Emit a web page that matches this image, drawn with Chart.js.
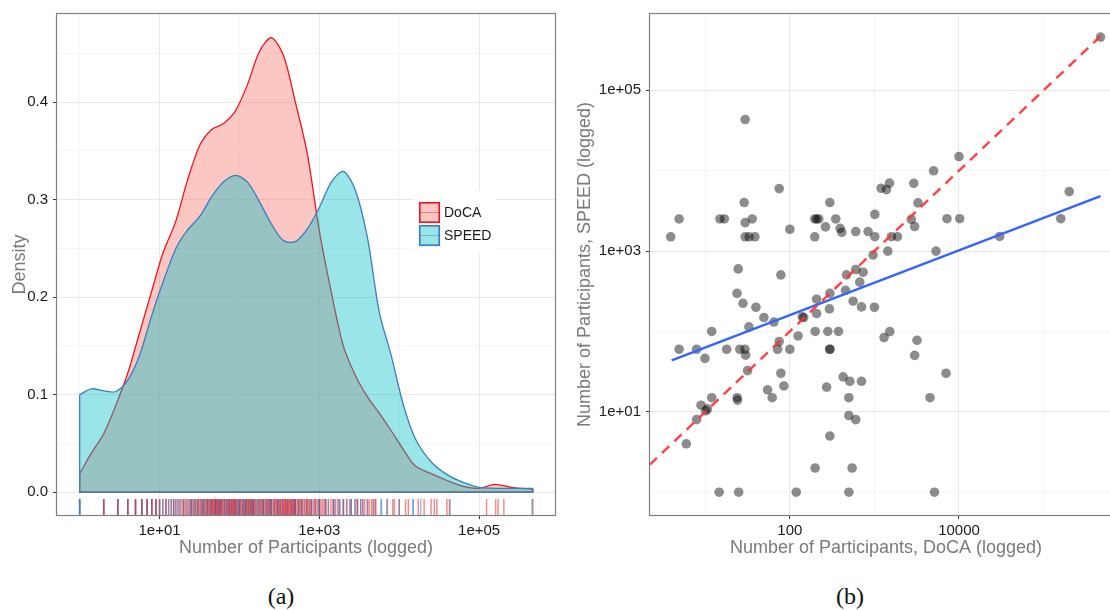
<!DOCTYPE html>
<html>
<head>
<meta charset="utf-8">
<script src="https://cdn.jsdelivr.net/npm/chart.js@4.4.0/dist/chart.umd.min.js"></script>
<style>
  html, body { margin: 0; padding: 0; background: #fff; }
  body { width: 1110px; height: 610px; overflow: hidden; position: relative; }
  #densityChart { position: absolute; left: 0; top: 0; }
  #scatterChart { position: absolute; left: 560px; top: 0; }
  .caption { position: absolute; top: 583px; font-family: "Liberation Serif", "DejaVu Serif", serif; font-size: 24px; line-height: 26px; color: #111; transform: translateX(-50%); }
</style>
</head>
<body>
<canvas id="densityChart" width="570" height="570"></canvas>
<canvas id="scatterChart" width="570" height="570"></canvas>
<div class="caption" style="left:281px">(a)</div>
<div class="caption" style="left:850px">(b)</div>
<script>
// ---- panel (a): density of participants ----
const seriesNames = ["DoCA", "SPEED"];

// x positions where the density curves were read (participants)
const densityX = [1, 1.4, 2, 2.8, 4, 5.6, 7.9, 11, 16, 22, 32, 45, 63, 89, 126, 178, 251, 355, 501, 708,
  1000, 1413, 1995, 2818, 3981, 5623, 7943, 11220, 15849, 25119, 39811, 63096, 100000, 158489, 251189, 470000];
const docaDensity = [0.019, 0.040, 0.060, 0.088, 0.122, 0.163, 0.205, 0.245, 0.278, 0.318, 0.356, 0.372, 0.378, 0.391,
  0.418, 0.452, 0.466, 0.448, 0.400, 0.347, 0.268, 0.205, 0.150, 0.120, 0.098, 0.081, 0.063, 0.044, 0.027, 0.019,
  0.012, 0.006, 0.004, 0.008, 0.005, 0.003];
const speedDensity = [0.100, 0.106, 0.104, 0.103, 0.115, 0.140, 0.180, 0.215, 0.250, 0.268, 0.283, 0.303, 0.318, 0.325,
  0.318, 0.298, 0.275, 0.258, 0.257, 0.270, 0.292, 0.318, 0.329, 0.310, 0.262, 0.185, 0.140, 0.090, 0.055, 0.031,
  0.018, 0.010, 0.005, 0.004, 0.004, 0.004];

// rug marks (individual observations)
const docaRug = [2, 2, 2, 3, 3, 3, 4, 4, 4, 5, 5, 5, 6, 6, 6, 7, 7, 7, 8, 8, 8, 9, 9, 9,
  10, 10, 11, 12, 12, 13, 14, 15, 15, 16, 17, 18, 19, 20, 20, 21, 22, 23, 24, 25, 25, 26, 27, 28, 29, 30, 30,
  31, 32, 33, 34, 35, 35, 36, 37, 38, 39, 40, 40, 41, 42, 43, 44, 45, 45, 46, 47, 48, 49, 50, 50, 50,
  51, 52, 53, 54, 55, 55, 56, 57, 58, 59, 60, 60, 62, 64, 65, 66, 68, 70, 70, 72, 74, 75, 75, 76, 78, 80, 80,
  82, 84, 85, 86, 88, 90, 90, 92, 95, 98, 100, 100, 100, 102, 105, 108, 110, 112, 115, 118, 120, 120, 122, 125,
  128, 130, 132, 135, 138, 140, 142, 145, 148, 150, 150, 150, 155, 160, 165, 170, 175, 180, 185, 190, 195,
  200, 200, 200, 210, 215, 220, 225, 230, 235, 240, 245, 250, 250, 260, 270, 275, 280, 290, 300, 300, 300,
  310, 320, 325, 330, 340, 350, 350, 360, 370, 375, 380, 390, 400, 400, 410, 420, 430, 440, 450, 450, 460,
  475, 480, 490, 500, 500, 500, 520, 540, 550, 560, 580, 600, 600, 620, 650, 680, 700, 700, 720, 750, 780,
  800, 800, 850, 880, 900, 950, 1000, 1000, 1000, 1050, 1100, 1150, 1200, 1200, 1300, 1400, 1500, 1500, 1600,
  1700, 1800, 2000, 2000, 2200, 2400, 2500, 2800, 3000, 3000, 3300, 3500, 3700, 4000, 4200, 4500, 4700, 5000,
  5100, 7100, 8300, 8700, 10000, 12000, 13000, 17300, 20500, 25000, 27500, 29600, 39500, 42500,
  124000, 161000, 173000, 204000, 470000];
const speedRug = [1, 1, 1, 1, 1, 2, 3, 4, 5, 6, 7, 8, 9, 10, 11, 12, 13, 14, 15, 16, 17, 18, 20, 22, 24, 25, 27, 28,
  30, 33, 35, 36, 39, 43, 45, 50, 55, 56, 60, 65, 70, 75, 80, 88, 95, 100, 100, 110, 115, 120, 130, 140, 150, 160,
  170, 180, 200, 200, 220, 240, 250, 270, 300, 320, 350, 400, 450, 500, 500, 550, 600, 650, 750, 800, 900,
  1000, 1000, 1200, 1300, 1500, 1550, 1750, 1800, 2000, 2200, 2500, 2500, 2800, 3000, 3300, 3500, 4000, 4800,
  5900, 6000, 7000, 10000, 14800, 15000, 18600, 43300, 460000];

const densityXTicks = [1, 10, 100, 1000, 10000, 100000];
const densityXLabels = { 10: "1e+01", 1000: "1e+03", 100000: "1e+05" };
const densityYTicks = [0, 0.05, 0.1, 0.15, 0.2, 0.25, 0.3, 0.35, 0.4, 0.45];
const densityYMajor = [0, 0.1, 0.2, 0.3, 0.4];

// ---- panel (b): matched events ----
const docaCount = [29.6, 74.8, 28.8, 297, 4.9, 14.9, 16.8, 29.6, 35.9, 100, 197, 207, 220, 349, 264, 393, 411, 602, 841,
  3.9, 29.6, 33, 38.6, 197, 24.5, 78.3, 23.7, 27.9, 39.7, 49.3, 64.7, 32.8, 11.9, 4.9, 7.9, 9.9, 17.9, 25.6, 29.4, 30,
  74.8, 71.6, 100, 125, 199, 281, 376, 297, 297, 146, 140, 207, 207, 297, 294, 455, 468, 602, 735, 671, 560, 703,
  78.3, 31.6, 54.5, 85, 272, 427, 512, 703, 61.8, 23.8, 24, 11.9, 8.9, 10.1, 10.6, 7.9, 5.96, 14.6, 24.8, 119, 498,
  199, 545, 297, 498, 602, 498, 472000, 10000, 5010, 2920, 1510, 1200, 1390, 3280, 1010, 2730, 2990, 7210, 10200,
  1010, 1590, 1870, 1440, 964, 5350, 30300, 160000, 201000, 1000, 1520, 1300, 3190, 2990, 7030, 4540, 5130];
const speedCount = [43300, 5990, 4020, 4020, 2510, 2510, 2510, 2260, 2510, 1870, 2510, 2510, 2510, 2510, 2000, 1920, 1715,
  1750, 1750, 1505, 1505, 1505, 1505, 1505, 600, 506, 298, 224, 200, 149, 131, 114, 100, 60.1, 60.1, 46.2, 60.1, 60.1,
  60.1, 50.7, 74.8, 60.1, 60.1, 87.9, 100, 100, 100, 60.1, 60.1, 149, 152, 167, 252, 298, 191, 325, 506, 590, 546, 411,
  238, 202, 30.2, 32.6, 18.8, 21, 20.3, 27.2, 24, 24, 15, 15, 14, 15, 12.1, 10.3, 10.9, 8, 4, 1, 1, 1, 1, 2, 2, 5, 9,
  8, 15, 460000, 15000, 9970, 6970, 7000, 6050, 5820, 3980, 2860, 2480, 2020, 2530, 2530, 1510, 1510, 1510, 1000, 893,
  1000, 1520, 2530, 5500, 200, 99.5, 84, 77.7, 50.4, 30.2, 15, 1];

const fitX = [4, 472000];          // fitted regression line (blue)
const fitY = [43.6, 4820];
const equalX = [2.2, 472000];      // equality line (red dashed)
const equalY = [2.2, 472000];

const scatterXTicks = [10, 100, 1000, 10000, 100000];
const scatterXLabels = { 100: "100", 10000: "10000" };
const scatterXMajor = [100, 10000];
const scatterYTicks = [1, 10, 100, 1000, 10000, 100000];
const scatterYLabels = { 10: "1e+01", 1000: "1e+03", 100000: "1e+05" };

// ---- styling ----
const FONT = '"Liberation Sans", Arial, sans-serif';
const docaLine = "#e8191f", docaFill = "rgba(248,118,109,0.42)";
const speedLine = "#3a7dc0", speedFill = "rgba(0,191,196,0.40)";
const RUG_Y = -0.0153;
const gridMajor = "#e8e8e8", gridMinor = "#f3f3f3";

Chart.defaults.font.family = FONT;

const frame = {
  id: "frame",
  afterDraw(chart) {
    const { ctx, chartArea: a } = chart;
    ctx.save();
    ctx.strokeStyle = "#808080";
    ctx.lineWidth = 1.2;
    ctx.strokeRect(a.left - 0.5, a.top - 0.5, a.right - a.left + 1, a.bottom - a.top + 1);
    ctx.restore();
  }
};

// outline the ends and the base of each density polygon, like ggplot does
const densityEdges = {
  id: "densityEdges",
  afterDatasetDraw(chart, args) {
    const ds = chart.data.datasets[args.index];
    if (!ds.closeEdges) return;
    const pts = args.meta.data;
    const first = pts[0], last = pts[pts.length - 1];
    const y0 = chart.scales.y.getPixelForValue(0);
    const ctx = chart.ctx;
    ctx.save();
    ctx.strokeStyle = ds.borderColor;
    ctx.lineWidth = ds.borderWidth;
    ctx.beginPath();
    ctx.moveTo(first.x, first.y);
    ctx.lineTo(first.x, y0);
    ctx.lineTo(last.x, y0);
    ctx.lineTo(last.x, last.y);
    ctx.stroke();
    ctx.restore();
  }
};

const densityLegend = {
  id: "densityLegend",
  afterDraw(chart) {
    const ctx = chart.ctx;
    const x = 414, y = 191;
    ctx.save();
    ctx.fillStyle = "#fff";
    ctx.fillRect(x, y, 82, 62);
    const keys = [[docaFill, docaLine], [speedFill, speedLine]];
    keys.forEach(([fill, line], i) => {
      const ky = y + 11 + i * 23;
      ctx.fillStyle = "#f2f2f2";
      ctx.fillRect(x + 4, ky - 1, 23, 23);
      ctx.fillStyle = "#fff";
      ctx.fillRect(x + 5, ky, 21, 21);
      ctx.fillStyle = fill;
      ctx.fillRect(x + 5, ky, 21, 21);
      ctx.strokeStyle = line;
      ctx.lineWidth = 1.6;
      ctx.strokeRect(x + 5.8, ky + 0.8, 19.4, 19.4);
      ctx.globalAlpha = 0.45;
      ctx.lineWidth = 1;
      ctx.beginPath();
      ctx.moveTo(x + 6, ky + 10.5);
      ctx.lineTo(x + 25, ky + 10.5);
      ctx.stroke();
      ctx.globalAlpha = 1;
      ctx.fillStyle = "#1a1a1a";
      ctx.font = "14px " + FONT;
      ctx.textBaseline = "middle";
      ctx.fillText(seriesNames[i], x + 30, ky + 11);
    });
    ctx.restore();
  }
};

function tickValues(list) {
  return s => { s.ticks = list.map(v => ({ value: v })); };
}

// ---- chart (a) ----
new Chart(document.getElementById("densityChart"), {
  type: "line",
  data: {
    datasets: [
      {
        label: seriesNames[0],
        data: densityX.map((x, i) => ({ x, y: docaDensity[i] })),
        borderColor: docaLine, backgroundColor: docaFill, borderWidth: 1.3,
        fill: "origin", pointRadius: 0, tension: 0.3, order: 3, closeEdges: true
      },
      {
        label: seriesNames[1],
        data: densityX.map((x, i) => ({ x, y: speedDensity[i] })),
        borderColor: speedLine, backgroundColor: speedFill, borderWidth: 1.3,
        fill: "origin", pointRadius: 0, tension: 0.3, order: 2, closeEdges: true
      },
      {
        type: "scatter", label: "DoCA rug",
        data: docaRug.map(x => ({ x, y: RUG_Y })),
        pointStyle: "line", rotation: 90, pointRadius: 8, borderWidth: 1.5,
        borderColor: "rgba(232,25,31,0.5)", order: 1
      },
      {
        type: "scatter", label: "SPEED rug",
        data: speedRug.map(x => ({ x, y: RUG_Y })),
        pointStyle: "line", rotation: 90, pointRadius: 8, borderWidth: 1.5,
        borderColor: "rgba(58,125,192,0.5)", order: 0
      }
    ]
  },
  options: {
    responsive: false, animation: false, events: [],
    layout: { padding: { left: 0, top: 10, right: 15, bottom: 0 } },
    plugins: { legend: { display: false }, tooltip: { enabled: false } },
    scales: {
      x: {
        type: "logarithmic", min: 0.5205, max: 891000,
        afterBuildTicks: tickValues(densityXTicks),
        afterFit: s => { s.height = 55; },
        ticks: { callback: v => densityXLabels[v] || "", color: "#1a1a1a", font: { size: 15 }, padding: 3, maxRotation: 0, autoSkip: false },
        grid: {
          color: c => densityXLabels[c.tick.value] ? gridMajor : gridMinor,
          lineWidth: c => densityXLabels[c.tick.value] ? 1 : 0.8,
          tickLength: 4,
          tickColor: c => densityXLabels[c.tick.value] ? "#333" : "rgba(0,0,0,0)"
        },
        border: { display: false },
        title: { display: true, text: "Number of Participants (logged)", color: "#7a7a7a", font: { size: 18 }, padding: { top: 0, bottom: 11 } }
      },
      y: {
        type: "linear", min: -0.0234, max: 0.4904,
        afterBuildTicks: tickValues(densityYTicks),
        afterFit: s => { s.width = 57; },
        ticks: { callback: v => densityYMajor.includes(v) ? v.toFixed(1) : "", color: "#1a1a1a", font: { size: 15 }, padding: 5, autoSkip: false },
        grid: {
          color: c => densityYMajor.includes(c.tick.value) ? gridMajor : gridMinor,
          lineWidth: c => densityYMajor.includes(c.tick.value) ? 1 : 0.8,
          tickLength: 4,
          tickColor: c => densityYMajor.includes(c.tick.value) ? "#333" : "rgba(0,0,0,0)"
        },
        border: { display: false },
        title: { display: true, text: "Density", color: "#7a7a7a", font: { size: 18 }, padding: { top: 9, bottom: 0 } }
      }
    }
  },
  plugins: [densityEdges, frame, densityLegend]
});

// ---- chart (b) ----
new Chart(document.getElementById("scatterChart"), {
  type: "scatter",
  data: {
    datasets: [
      {
        label: "Events",
        data: docaCount.map((x, i) => ({ x, y: speedCount[i] })),
        backgroundColor: "rgba(0,0,0,0.45)", borderWidth: 0, pointRadius: 4.8, order: 3
      },
      {
        type: "line", label: "Fit",
        data: fitX.map((x, i) => ({ x, y: fitY[i] })),
        borderColor: "#3366ff", borderWidth: 2.5, pointRadius: 0, fill: false, order: 2
      },
      {
        type: "line", label: "Equal",
        data: equalX.map((x, i) => ({ x, y: equalY[i] })),
        borderColor: "rgba(255,50,50,0.9)", borderWidth: 2.5, borderDash: [10, 7], pointRadius: 0, fill: false, order: 1
      }
    ]
  },
  options: {
    responsive: false, animation: false, events: [],
    layout: { padding: { left: 0, top: 10, right: 8, bottom: 0 } },
    plugins: { legend: { display: false }, tooltip: { enabled: false } },
    scales: {
      x: {
        type: "logarithmic", min: 2.218, max: 847000,
        afterBuildTicks: tickValues(scatterXTicks),
        afterFit: s => { s.height = 55; },
        ticks: { callback: v => scatterXLabels[v] || "", color: "#1a1a1a", font: { size: 15 }, padding: 3, maxRotation: 0, autoSkip: false },
        grid: {
          color: c => scatterXMajor.includes(c.tick.value) ? gridMajor : gridMinor,
          lineWidth: c => scatterXMajor.includes(c.tick.value) ? 1 : 0.8,
          tickLength: 4,
          tickColor: c => scatterXMajor.includes(c.tick.value) ? "#333" : "rgba(0,0,0,0)"
        },
        border: { display: false },
        title: { display: true, text: "Number of Participants, DoCA (logged)", color: "#7a7a7a", font: { size: 18 }, padding: { top: 0, bottom: 11 } }
      },
      y: {
        type: "logarithmic", min: 0.5205, max: 891000,
        afterBuildTicks: tickValues(scatterYTicks),
        afterFit: s => { s.width = 90; },
        ticks: { callback: v => scatterYLabels[v] || "", color: "#1a1a1a", font: { size: 15 }, padding: 5, autoSkip: false },
        grid: {
          color: c => scatterYLabels[c.tick.value] ? gridMajor : gridMinor,
          lineWidth: c => scatterYLabels[c.tick.value] ? 1 : 0.8,
          tickLength: 4,
          tickColor: c => scatterYLabels[c.tick.value] ? "#333" : "rgba(0,0,0,0)"
        },
        border: { display: false },
        title: { display: true, text: "Number of Participants, SPEED (logged)", color: "#7a7a7a", font: { size: 18 }, padding: { top: 14, bottom: 0 } }
      }
    }
  },
  plugins: [frame]
});
</script>
</body>
</html>
